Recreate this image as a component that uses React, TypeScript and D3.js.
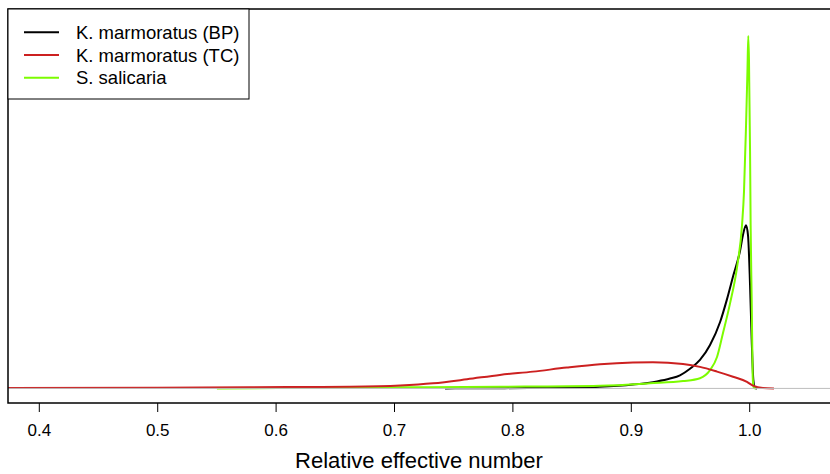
import React from "react";
import * as d3 from "d3";

// density estimates (x = relative effective number, y = density, arbitrary units)
const bpX = [0.7427, 0.78, 0.83, 0.8735, 0.9014, 0.9217, 0.9327, 0.9411, 0.9496, 0.958, 0.9665, 0.975, 0.9806, 0.9862, 0.9919, 0.9944, 0.9969, 0.9986, 1.0003, 1.0017, 1.0031, 1.0045, 1.0062];
const bpY = [0, 0.05, 0.15, 0.45, 1.05, 1.9, 2.7, 3.6, 5.4, 7.8, 11.9, 18.2, 24.2, 31, 37.8, 42.2, 44.7, 41.9, 28.3, 13.2, 2.3, 0.1, 0];

const tcX = [0.37, 0.5, 0.578, 0.62, 0.6624, 0.7047, 0.7325, 0.7612, 0.789, 0.8169, 0.8456, 0.8736, 0.9014, 0.9183, 0.9437, 0.958, 0.9724, 0.9859, 0.9977, 1.0028, 1.0112, 1.0205];
const tcY = [0.1, 0.2, 0.3, 0.38, 0.46, 0.8, 1.4, 2.5, 3.7, 4.6, 5.7, 6.6, 7.1, 7.2, 6.7, 5.9, 4.6, 3.2, 1.8, 0.74, 0.1, 0];

const ssX = [0.55, 0.62, 0.7047, 0.789, 0.8736, 0.9158, 0.9437, 0.958, 0.9665, 0.9724, 0.9774, 0.9834, 0.9893, 0.9935, 0.9952, 0.9969, 0.9981, 0.9988, 0.9994, 1.0003, 1.0008, 1.0017, 1.0025, 1.003, 1.0036, 1.0053];
const ssY = [0, 0.15, 0.3, 0.46, 0.74, 1.4, 2.0, 2.8, 5.0, 8.6, 15.1, 23.3, 33.2, 44.7, 54, 72, 87, 96.6, 90, 65, 44.7, 24, 3.7, 0.9, 0.1, 0];

const seriesNames = ["K. marmoratus (BP)", "K. marmoratus (TC)", "S. salicaria"];
const seriesColors = ["#000000", "#cc2020", "#7cfc00"];
const xTicks = [0.4, 0.5, 0.6, 0.7, 0.8, 0.9, 1.0];

const W = 830;
const H = 474;
const box = { left: 8, right: 840, top: 9, bottom: 403 };
const font = "'Liberation Sans', Arial, Helvetica, sans-serif";

export default function App() {
  const x = d3.scaleLinear().domain([0.37356, 1.07627]).range([box.left, box.right]);
  const y = d3.scaleLinear().domain([-4, 104]).range([box.bottom, box.top]);

  const line = d3
    .line<[number, number]>()
    .x((d) => x(d[0]))
    .y((d) => y(d[1]))
    .curve(d3.curveMonotoneX);

  const series = [
    bpX.map((v, i) => [v, bpY[i]] as [number, number]),
    tcX.map((v, i) => [v, tcY[i]] as [number, number]),
    ssX.map((v, i) => [v, ssY[i]] as [number, number]),
  ];
  // drawing order: BP, S. salicaria, TC
  const order = [0, 2, 1];

  return (
    <svg
      width={W}
      height={H}
      style={{ position: "absolute", left: 0, top: 0, background: "white" }}
    >
      <defs>
        <clipPath id="plot">
          <rect x={box.left} y={box.top} width={box.right - box.left} height={box.bottom - box.top} />
        </clipPath>
      </defs>
      <g clipPath="url(#plot)">
        {order.map((k) => (
          <path
            key={k}
            d={line(series[k]) || ""}
            fill="none"
            stroke={seriesColors[k]}
            strokeWidth={2}
            strokeLinejoin="round"
          />
        ))}
        <line x1={box.left} x2={box.right} y1={y(0)} y2={y(0)} stroke="#bebebe" strokeWidth={1} />
      </g>
      <rect
        x={box.left}
        y={box.top}
        width={box.right - box.left}
        height={box.bottom - box.top}
        fill="none"
        stroke="black"
        strokeWidth={1.5}
      />
      {/* x axis */}
      <g fontFamily={font} fontSize={17} textAnchor="middle">
        {xTicks.map((t) => (
          <g key={t}>
            <line x1={x(t)} x2={x(t)} y1={box.bottom} y2={box.bottom + 9} stroke="black" strokeWidth={1} />
            <text x={x(t)} y={box.bottom + 32.5}>
              {d3.format(".1f")(t)}
            </text>
          </g>
        ))}
      </g>
      <text
        x={(box.left + W) / 2}
        y={468}
        textAnchor="middle"
        fontFamily={font}
        fontSize={22}
      >
        Relative effective number
      </text>
      {/* legend */}
      <rect x={box.left} y={box.top} width={241} height={90} fill="white" stroke="black" strokeWidth={1} />
      {seriesNames.map((name, i) => {
        const ly = 32.3 + i * 22.7;
        return (
          <g key={name}>
            <line x1={24} x2={59} y1={ly} y2={ly} stroke={seriesColors[i]} strokeWidth={2} />
            <text x={76} y={ly + 6.5} fontFamily={font} fontSize={18.5}>
              {name}
            </text>
          </g>
        );
      })}
    </svg>
  );
}
